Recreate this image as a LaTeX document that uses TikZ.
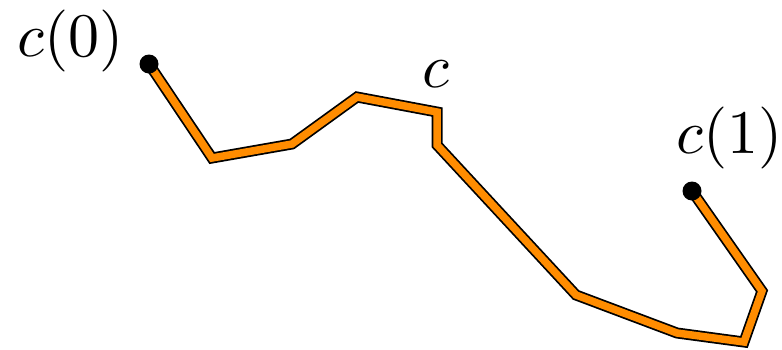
\documentclass[tikz,border=0pt]{standalone}
\usepackage{amsmath,amssymb}
\usepackage{tikz}
\definecolor{curveorange}{RGB}{255,140,0}
\def\curvepath{(c0) -- (212,158) -- (292,144) -- (357,97) -- (437,112) -- (437,145)
  -- (576,295) -- (677,333) -- (744,342) -- (762,291) -- (c1)}
\begin{document}
\begin{tikzpicture}[x=1pt, y=-1pt, lbl/.style={scale=6.2, inner sep=0pt}]
  \useasboundingbox (0,0) rectangle (782,349);
  \coordinate (c0) at (149,64);
  \coordinate (c1) at (692,191);
  \draw[line width=11pt, line join=miter] \curvepath;
  \draw[curveorange, line width=7.5pt, line join=miter] \curvepath;
  \fill (c0) circle (9.5pt);
  \fill (c1) circle (9.5pt);
  \node[lbl, anchor=base west] (startlbl) at (16,56) {$c(0)$};
  \node[lbl, anchor=base west] (curvelbl) at (421,87) {$c$};
  \node[lbl, anchor=base west] (endlbl) at (675,153) {$c(1)$};
\end{tikzpicture}
\end{document}
